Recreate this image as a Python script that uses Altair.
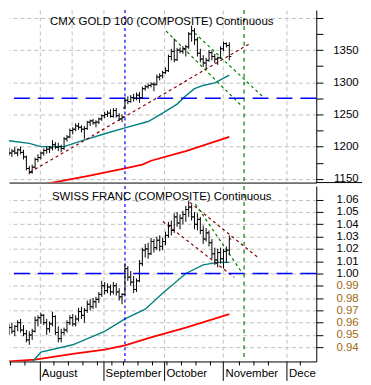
import altair as alt
import pandas as pd

FONT = "Liberation Sans"

# ---- bar index: 0 = 16 Jul 2010, one step per trading day ----
gold_open = [1192, 1190, 1193, 1190, 1195, 1191, 1184, 1166, 1160, 1168, 1180,
             1183, 1190, 1194, 1196, 1198, 1203, 1199, 1200, 1197, 1212, 1215,
             1225, 1227, 1232, 1230, 1227, 1228, 1238, 1240, 1237, 1238, 1243,
             1248, 1250, 1252, 1247, 1256, 1248, 1243, 1260, 1272, 1270, 1276,
             1275, 1280, 1276, 1290, 1293, 1295, 1297, 1297, 1308, 1310, 1315,
             1318, 1340, 1348, 1335, 1350, 1348, 1352, 1355, 1375, 1380, 1366,
             1345, 1336, 1330, 1334, 1346, 1340, 1336, 1338, 1352, 1360, 1357]
gold_high = [1198, 1196, 1199, 1197, 1200, 1195, 1186, 1170, 1172, 1183, 1188,
             1192, 1197, 1200, 1201, 1210, 1207, 1206, 1203, 1215, 1218, 1228,
             1230, 1236, 1237, 1233, 1232, 1240, 1242, 1243, 1241, 1245, 1250,
             1254, 1256, 1258, 1260, 1260, 1252, 1250, 1276, 1278, 1280, 1282,
             1284, 1285, 1293, 1296, 1298, 1300, 1300, 1312, 1314, 1318, 1323,
             1343, 1352, 1368, 1353, 1354, 1356, 1358, 1378, 1388, 1384, 1370,
             1352, 1342, 1338, 1350, 1349, 1344, 1340, 1356, 1363, 1362, 1362]
gold_low = [1186, 1184, 1188, 1185, 1188, 1180, 1163, 1157, 1158, 1166, 1176,
            1180, 1186, 1189, 1190, 1194, 1196, 1193, 1191, 1195, 1208, 1213,
            1219, 1224, 1226, 1222, 1212, 1226, 1232, 1234, 1230, 1235, 1240,
            1244, 1246, 1245, 1245, 1245, 1240, 1238, 1258, 1266, 1268, 1270,
            1272, 1268, 1274, 1287, 1290, 1292, 1286, 1295, 1303, 1306, 1313,
            1316, 1334, 1331, 1333, 1345, 1344, 1340, 1352, 1363, 1358, 1340,
            1331, 1324, 1320, 1332, 1334, 1330, 1327, 1336, 1348, 1354, 1334]
gold_close = [1190, 1193, 1190, 1195, 1191, 1184, 1166, 1160, 1168, 1180, 1183,
              1190, 1194, 1196, 1198, 1203, 1199, 1200, 1197, 1212, 1215, 1225,
              1227, 1232, 1230, 1227, 1228, 1238, 1240, 1237, 1238, 1243, 1248,
              1250, 1252, 1247, 1256, 1248, 1243, 1246, 1272, 1270, 1276, 1275,
              1280, 1276, 1290, 1293, 1295, 1297, 1296, 1308, 1310, 1315, 1318,
              1340, 1348, 1335, 1350, 1348, 1352, 1355, 1375, 1380, 1366, 1345,
              1336, 1330, 1334, 1346, 1340, 1336, 1338, 1352, 1360, 1357, 1340]

chf_open = [0.955, 0.956, 0.953, 0.957, 0.960, 0.954, 0.951, 0.946, 0.950, 0.953, 0.962,
            0.964, 0.966, 0.960, 0.955, 0.959, 0.965, 0.952, 0.947, 0.952, 0.954, 0.960,
            0.964, 0.959, 0.963, 0.969, 0.966, 0.970, 0.975, 0.973, 0.977, 0.979, 0.983,
            0.990, 0.986, 0.989, 0.985, 0.990, 0.985, 0.981, 0.983, 1.004, 0.997, 0.993,
            0.987, 0.994, 1.008, 1.019, 1.020, 1.016, 1.026, 1.021, 1.027, 1.022, 1.026,
            1.031, 1.039, 1.035, 1.046, 1.041, 1.045, 1.048, 1.052, 1.054, 1.046, 1.040,
            1.044, 1.035, 1.028, 1.033, 1.025, 1.016, 1.011, 1.017, 1.012, 1.018, 1.019]
chf_high = [0.959, 0.960, 0.958, 0.962, 0.963, 0.958, 0.954, 0.953, 0.955, 0.965, 0.966,
            0.968, 0.967, 0.963, 0.961, 0.969, 0.966, 0.957, 0.955, 0.956, 0.962, 0.966,
            0.967, 0.966, 0.972, 0.973, 0.972, 0.978, 0.979, 0.980, 0.981, 0.985, 0.994,
            0.993, 0.992, 0.991, 0.993, 0.992, 0.988, 0.984, 1.008, 1.006, 1.002, 0.998,
            0.996, 1.011, 1.021, 1.024, 1.025, 1.029, 1.028, 1.030, 1.031, 1.029, 1.034,
            1.042, 1.043, 1.049, 1.050, 1.048, 1.051, 1.055, 1.059, 1.056, 1.050, 1.049,
            1.046, 1.039, 1.037, 1.035, 1.028, 1.021, 1.020, 1.021, 1.020, 1.022, 1.031]
chf_low = [0.950, 0.951, 0.949, 0.953, 0.952, 0.949, 0.944, 0.942, 0.946, 0.952, 0.957,
           0.959, 0.958, 0.950, 0.952, 0.957, 0.950, 0.944, 0.944, 0.950, 0.952, 0.958,
           0.957, 0.957, 0.961, 0.963, 0.960, 0.968, 0.970, 0.971, 0.972, 0.976, 0.981,
           0.983, 0.984, 0.982, 0.983, 0.982, 0.978, 0.975, 0.982, 0.994, 0.990, 0.984,
           0.985, 0.993, 1.006, 1.013, 1.012, 1.015, 1.017, 1.019, 1.018, 1.019, 1.023,
           1.029, 1.031, 1.033, 1.038, 1.036, 1.040, 1.042, 1.046, 1.043, 1.036, 1.035,
           1.032, 1.024, 1.026, 1.022, 1.012, 1.007, 1.005, 1.008, 1.004, 1.009, 1.015]
chf_close = [0.956, 0.953, 0.957, 0.960, 0.954, 0.951, 0.946, 0.950, 0.953, 0.962, 0.964,
             0.966, 0.960, 0.955, 0.959, 0.965, 0.952, 0.947, 0.952, 0.954, 0.960, 0.964,
             0.959, 0.963, 0.969, 0.966, 0.970, 0.975, 0.973, 0.977, 0.979, 0.983, 0.990,
             0.986, 0.989, 0.985, 0.990, 0.985, 0.981, 0.983, 1.004, 0.997, 0.993, 0.987,
             0.994, 1.008, 1.019, 1.020, 1.016, 1.026, 1.021, 1.027, 1.022, 1.026, 1.031,
             1.039, 1.035, 1.046, 1.041, 1.045, 1.048, 1.052, 1.054, 1.046, 1.040, 1.044,
             1.035, 1.028, 1.033, 1.025, 1.016, 1.011, 1.017, 1.012, 1.018, 1.019, 1.028]

# moving averages (read at sample bars)
gold_ma50_i = [0, 7, 11, 19, 25, 33, 40, 48, 53, 58, 61, 64, 67, 71, 76]
gold_ma50_v = [1209, 1205, 1200, 1200, 1209, 1220, 1229, 1239, 1252, 1266, 1279, 1290, 1295, 1299, 1311]
gold_ma200_i = [0, 15, 27, 40, 46, 49, 61, 76]
gold_ma200_v = [1133, 1144, 1154, 1166, 1172, 1178, 1193, 1215]
chf_ma50_i = [0, 8, 11, 22, 33, 40, 47, 53, 61, 67, 72, 76]
chf_ma50_v = [0.920, 0.928, 0.936, 0.942, 0.953, 0.963, 0.971, 0.984, 1.000, 1.007, 1.009, 1.009]
chf_ma200_i = [0, 9, 22, 33, 40, 49, 61, 76]
chf_ma200_v = [0.9285, 0.930, 0.9347, 0.938, 0.9416, 0.948, 0.956, 0.967]

# drawn trend lines: (start bar, start value, end bar, end value)
gold_support = [7.2, 1160, 83.0, 1360]
gold_green_a = [54.2, 1379.6, 80.4, 1262.6]
gold_green_b = [64.0, 1376.7, 87.6, 1277.4]
chf_chan_top = [62.4, 1.0578, 86.3, 1.0122]
chf_chan_bot = [53.1, 1.0422, 77.7, 0.9969]
chf_green = [64.3, 1.0564, 80.4, 1.0006]

gold_level = [1275]
chf_level = [1.00]
blue_vline = [40.0]
green_vline = [81.1]

month_pos = [10.5, 32.5, 53.5, 73.85, 95.8]
month_names = ["August", "September", "October", "November", "Dece"]
week_pos = [0.5, 5.5, 15.5, 20.5, 25.5, 30.5, 35.5, 39.5, 44.5, 49.5, 54.5, 59.5,
            64.5, 69.5, 79.5, 84.5, 89.5, 100.5]
top_vgrid = [10.5, 21.5, 32.5, 53.5, 73.85, 95.8]

gold_ticks = [1150, 1175, 1200, 1225, 1250, 1275, 1300, 1325, 1350, 1375, 1400]
chf_ticks = [0.94, 0.95, 0.96, 0.97, 0.98, 0.99, 1.00, 1.01, 1.02, 1.03,
             1.04, 1.05, 1.06]

gold_title = "CMX GOLD 100 (COMPOSITE) Continuous"
chf_title = "SWISS FRANC (COMPOSITE) Continuous"

# ---- layout (whole chart fits the 355x369 area inside the page margin) ----
W = 309
H_TOP = 173.5
H_BOT = 176.4
FS = 11.5
X_DOMAIN = [0.0, 106.0]
GOLD_DOMAIN = [1144.1, 1412.2]
CHF_DOMAIN = [0.92845, 1.0711]
GRID = "#c0c0c0"


def ohlc_df(o, h, l, c):
    return pd.DataFrame({"i": list(range(len(o))), "open": o, "high": h, "low": l, "close": c})


def line_df(xs, ys):
    return pd.DataFrame({"i": xs, "v": ys})


def seg_df(seg):
    return pd.DataFrame({"i": [seg[0], seg[2]], "v": [seg[1], seg[3]]})


def panel(ohlc, ma50, ma200, segs, level, ydom, xaxis, yaxis, title, title_y, extra):
    xs = alt.Scale(domain=X_DOMAIN, nice=False, zero=False)
    ys = alt.Scale(domain=ydom, nice=False, zero=False)

    def X(field="i"):
        return alt.X(f"{field}:Q", scale=xs, axis=xaxis, title=None)

    def Y(field="v"):
        return alt.Y(f"{field}:Q", scale=ys, axis=yaxis, title=None)

    layers = []
    layers.append(alt.Chart(line_df(*ma200)).mark_line(color="#ff0000", strokeWidth=1.8, clip=True)
                  .encode(x=X(), y=Y()))
    layers.append(alt.Chart(line_df(*ma50)).mark_line(color="#008080", strokeWidth=1.4, clip=True)
                  .encode(x=X(), y=Y()))
    for seg, col in segs:
        layers.append(alt.Chart(seg_df(seg)).mark_line(color=col, strokeWidth=1.2, strokeDash=[3, 3], clip=True)
                      .encode(x=X(), y=Y()))
    layers.append(alt.Chart(pd.DataFrame({"v": level})).mark_rule(color="#0000ff", strokeWidth=1.5,
                                                                   strokeDash=[16, 8])
                  .encode(y=Y()))
    layers.append(alt.Chart(pd.DataFrame({"i": blue_vline})).mark_rule(color="#0000ff", strokeWidth=1.2,
                                                                        strokeDash=[3, 3])
                  .encode(x=X()))
    layers.append(alt.Chart(pd.DataFrame({"i": green_vline})).mark_rule(color="#008000", strokeWidth=1.2,
                                                                         strokeDash=[4, 4])
                  .encode(x=X()))
    base = alt.Chart(ohlc)
    layers.append(base.mark_rule(color="black", strokeWidth=1, clip=True)
                  .encode(x=X(), y=Y("low"), y2="high:Q"))
    layers.append(base.mark_rule(color="black", strokeWidth=1, xOffset=-2, x2Offset=0, clip=True)
                  .encode(x=X(), x2="i:Q", y=Y("open")))
    layers.append(base.mark_rule(color="black", strokeWidth=1, xOffset=0, x2Offset=2, clip=True)
                  .encode(x=X(), x2="i:Q", y=Y("close")))
    layers.extend(extra(X, Y))
    layers.append(alt.Chart(pd.DataFrame({"t": [title]})).mark_text(
        font=FONT, fontSize=FS, color="black", align="center", baseline="alphabetic")
        .encode(x=alt.value(153.6), y=alt.value(title_y), text="t:N"))
    return layers


top_xaxis = alt.Axis(values=top_vgrid, labels=False, ticks=False, domain=True, domainColor="black",
                     domainWidth=1, grid=True, gridColor=GRID, gridDash=[4, 3], gridWidth=1, title=None)
top_yaxis = alt.Axis(orient="right", values=gold_ticks, format="d",
                     labelExpr="datum.value % 50 == 0 && datum.value < 1400 ? datum.label : ''",
                     tickSize=6.7, tickColor="black", domainColor="black", labelAlign="right",
                     labelPadding=35.4, labelFont=FONT, labelFontSize=FS, labelColor="black",
                     labelOverlap=False, labelBound=False, labelFlush=False,
                     grid=True, gridColor=GRID, gridDash=[4, 3], gridWidth=1,
                     gridOpacity=alt.condition("datum.value % 50 == 0", alt.value(1), alt.value(0)),
                     title=None)

month_expr = ("[" + ",".join(f"'{m}'" for m in month_names) + "][indexof(["
              + ",".join(str(p) for p in month_pos) + "], datum.value)]")
bot_xaxis = alt.Axis(values=month_pos, tickSize=19, tickColor="black", domainColor="black",
                     labelExpr=month_expr, labelAlign="left", labelOffset=1.9, labelPadding=-12.8,
                     labelBaseline="top", labelFont=FONT, labelFontSize=FS, labelColor="black",
                     labelOverlap=False, labelBound=False, labelFlush=False,
                     grid=True, gridColor=GRID, gridDash=[4, 3], gridWidth=1, title=None)
bot_yaxis = alt.Axis(orient="right", values=chf_ticks, format=".2f",
                     tickSize=6.7, tickColor="black", domainColor="black", labelAlign="right",
                     labelPadding=35.4, labelFont=FONT, labelFontSize=FS,
                     labelColor=alt.condition("datum.value < 0.995", alt.value("#a06a10"), alt.value("black")),
                     labelOverlap=False, labelBound=False, labelFlush=False,
                     grid=True, gridColor=GRID, gridDash=[4, 3], gridWidth=1, title=None)


def top_extra(X, Y):
    return [alt.Chart(pd.DataFrame({"k": [0]})).mark_rule(color="black", strokeWidth=1)
            .encode(x=alt.value(W), x2=alt.value(355), y=alt.value(H_TOP))]


def bot_extra(X, Y):
    return [alt.Chart(pd.DataFrame({"i": week_pos})).mark_rule(color="black", strokeWidth=1)
            .encode(x=X(), y=alt.value(H_BOT), y2=alt.value(H_BOT + 4))]


top_layers = panel(ohlc_df(gold_open, gold_high, gold_low, gold_close),
                   (gold_ma50_i, gold_ma50_v), (gold_ma200_i, gold_ma200_v),
                   [(gold_support, "#8b0000"), (gold_green_a, "#008000"), (gold_green_b, "#008000")],
                   gold_level, GOLD_DOMAIN, top_xaxis, top_yaxis, gold_title, 14.9, top_extra)
bot_layers = panel(ohlc_df(chf_open, chf_high, chf_low, chf_close),
                   (chf_ma50_i, chf_ma50_v), (chf_ma200_i, chf_ma200_v),
                   [(chf_chan_top, "#8b0000"), (chf_chan_bot, "#8b0000"), (chf_green, "#008000")],
                   chf_level, CHF_DOMAIN, bot_xaxis, bot_yaxis, chf_title, 14.4, bot_extra)

top = alt.layer(*top_layers).properties(width=W, height=H_TOP)
bottom = alt.layer(*bot_layers).properties(width=W, height=H_BOT)

chart = (alt.vconcat(top, bottom, spacing=0)
         .properties(padding=0, background="white")
         .configure_view(stroke=None)
         .configure_axis(domainWidth=1, tickWidth=1))

chart.save("out.html", embed_options={"renderer": "svg", "actions": False})
